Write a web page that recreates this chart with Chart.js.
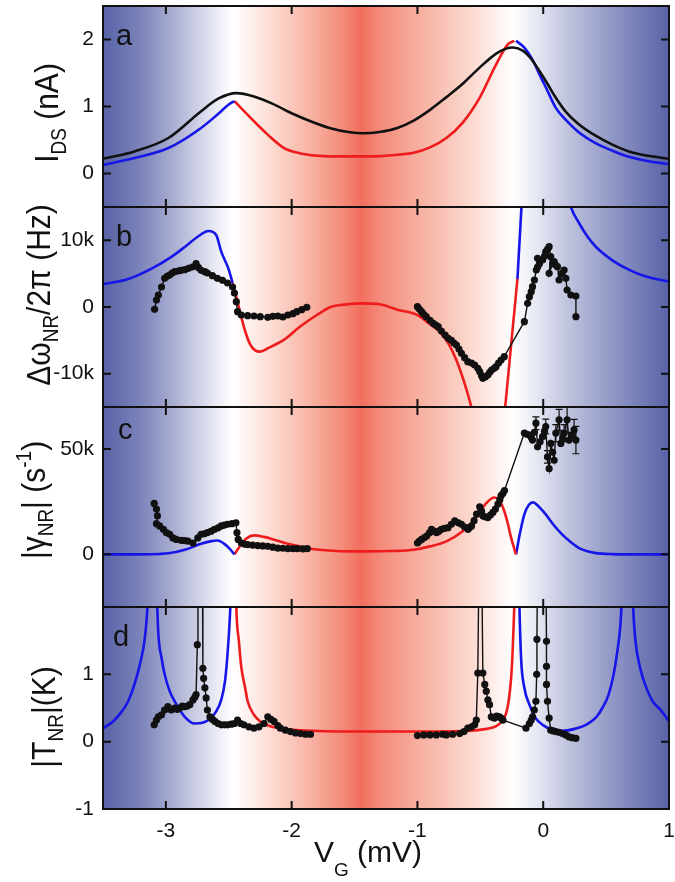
<!DOCTYPE html>
<html>
<head>
<meta charset="utf-8">
<script src="https://cdn.jsdelivr.net/npm/chart.js@4.4.0/dist/chart.umd.min.js"></script>
<style>
  body { margin: 0; background: #fff; }
  #wrap { position: relative; width: 675px; height: 882px; overflow: hidden; }
  canvas { position: absolute; left: 0; }
</style>
</head>
<body>
<div id="wrap">
  <canvas id="chartA" width="675" height="213" style="top:0px"></canvas>
  <canvas id="chartB" width="675" height="212" style="top:201px"></canvas>
  <canvas id="chartC" width="675" height="212" style="top:401px"></canvas>
  <canvas id="chartD" width="675" height="281" style="top:601px"></canvas>
</div>
<script>
// ---- axes / ticks ----
const xTickVals = [-3, -2, -1, 0, 1];
const aTicks = [0, 1, 2];
const bTicks = [-10000, 0, 10000];
const cTicks = [0, 50000];
const dTicks = [-1, 0, 1];

// ---- panel a : I_DS ----
const aBlack = [[-3.5,0.22],[-3.25,0.33],[-2.98,0.53],[-2.72,0.93],[-2.58,1.12],[-2.44,1.2],[-2.3,1.15],[-2.15,1.04],[-2.0,0.9],[-1.85,0.78],[-1.7,0.68],[-1.55,0.62],[-1.43,0.6],[-1.3,0.62],[-1.16,0.68],[-1.03,0.79],[-0.9,0.95],[-0.77,1.14],[-0.64,1.34],[-0.506,1.58],[-0.374,1.79],[-0.3,1.86],[-0.24,1.88],[-0.16,1.83],[-0.1,1.72],[-0.03,1.53],[0.03,1.35],[0.1,1.13],[0.18,0.92],[0.28,0.74],[0.42,0.56],[0.55,0.43],[0.68,0.33],[0.85,0.26],[1.0,0.22]];
const aBlueL = [[-3.5,0.13],[-3.25,0.23],[-2.98,0.38],[-2.72,0.68],[-2.59,0.88],[-2.5,1.03],[-2.455,1.08]];
const aRed = [[-2.455,1.08],[-2.3,0.78],[-2.19,0.58],[-2.06,0.38],[-1.93,0.3],[-1.75,0.26],[-1.5,0.255],[-1.3,0.26],[-1.16,0.28],[-1.03,0.31],[-0.9,0.39],[-0.77,0.53],[-0.64,0.76],[-0.506,1.13],[-0.374,1.63],[-0.28,1.93],[-0.23,1.98]];
const aBlueR = [[-0.216,1.98],[-0.15,1.88],[-0.08,1.68],[-0.03,1.48],[0.03,1.25],[0.1,0.98],[0.18,0.8],[0.28,0.62],[0.42,0.45],[0.55,0.34],[0.68,0.25],[0.85,0.18],[1.0,0.14]];

// ---- panel b : frequency shift ----
const bBlueL = [[-3.5,3400],[-3.3,4200],[-3.11,5800],[-2.95,7600],[-2.85,9000],[-2.75,10500],[-2.66,11400],[-2.6,10800],[-2.56,8300],[-2.5,5600],[-2.47,3600]];
const bRed = [[-2.47,3600],[-2.44,1500],[-2.41,-800],[-2.37,-3600],[-2.33,-5600],[-2.29,-6500],[-2.25,-6700],[-2.18,-6100],[-2.06,-4900],[-1.93,-2900],[-1.8,-1200],[-1.69,0],[-1.61,300],[-1.45,550],[-1.3,400],[-1.16,-400],[-1.0,-1200],[-0.9,-2600],[-0.82,-3800],[-0.75,-5600],[-0.69,-8000],[-0.61,-12400],[-0.55,-16500]];
const bRed2 = [[-0.31,-16500],[-0.205,4200]];
const bBlue2 = [[-0.205,4200],[-0.17,16000]];
const bBlueR = [[0.2,16500],[0.22,15000],[0.285,12600],[0.35,10600],[0.42,9000],[0.55,7000],[0.68,5600],[0.81,4600],[1.0,3800]];
const bDataL = [[-3.09,-350],[-3.075,1050],[-3.06,1800],[-3.035,3000],[-3.01,4300],[-2.99,4600],[-2.97,4800],[-2.95,5100],[-2.93,5300],[-2.9,5400],[-2.88,5500],[-2.85,5600],[-2.82,5800],[-2.79,6000],[-2.76,6500],[-2.74,5900],[-2.72,5500],[-2.69,5300],[-2.67,5100],[-2.63,4700],[-2.59,4300],[-2.55,4000],[-2.51,3600],[-2.47,3000],[-2.455,2100],[-2.44,800],[-2.43,-700],[-2.4,-1200],[-2.35,-1300],[-2.3,-1350],[-2.25,-1450],[-2.19,-1550],[-2.15,-1400],[-2.11,-1350],[-2.07,-1500],[-2.03,-1200],[-1.99,-1000],[-1.96,-700],[-1.92,-400],[-1.88,-50]];
const bDataR = [[-1.0,50],[-0.985,-300],[-0.967,-700],[-0.95,-1100],[-0.93,-1450],[-0.9,-2000],[-0.875,-2450],[-0.855,-2700],[-0.835,-2950],[-0.81,-3600],[-0.78,-4200],[-0.755,-4700],[-0.73,-5000],[-0.71,-5400],[-0.69,-5700],[-0.67,-6300],[-0.65,-6950],[-0.625,-7600],[-0.6,-8200],[-0.57,-8400],[-0.545,-8700],[-0.52,-9200],[-0.505,-9700],[-0.49,-10300],[-0.48,-10700],[-0.46,-10500],[-0.44,-10200],[-0.425,-9800],[-0.41,-9450],[-0.39,-9200],[-0.375,-8950],[-0.355,-8400],[-0.335,-7950],[-0.31,-7450],[-0.15,-2200],[-0.124,550],[-0.11,1550],[-0.095,2300],[-0.085,3050],[-0.07,4050],[-0.055,5550],[-0.045,7300],[-0.045,6000],[-0.03,6500],[-0.005,7050],[0.01,7600],[0.02,8300],[0.035,8700],[0.047,9050],[0.06,7550],[0.047,5050],[0.075,6500],[0.087,6800],[0.1,6300],[0.113,6050],[0.126,4050],[0.145,5000],[0.166,5550],[0.18,4300],[0.19,2550],[0.22,1800],[0.26,1650],[0.26,-1450]];

// ---- panel c : damping ----
const cBlueL = [[-3.5,0],[-3.2,0],[-3.05,200],[-2.98,500],[-2.85,2200],[-2.72,5000],[-2.64,6300],[-2.59,6600],[-2.535,5000],[-2.49,2500],[-2.455,0]];
const cRed = [[-2.455,0],[-2.41,4000],[-2.36,7500],[-2.3,9000],[-2.22,8300],[-2.14,7000],[-2.06,5500],[-1.93,3700],[-1.8,2300],[-1.61,1500],[-1.4,1400],[-1.2,1600],[-1.03,2200],[-0.9,3800],[-0.77,6200],[-0.64,11000],[-0.57,15000],[-0.51,19900],[-0.45,24500],[-0.39,27000],[-0.35,25800],[-0.32,22300],[-0.285,15500],[-0.255,7800],[-0.216,0]];
const cBlueR = [[-0.216,0],[-0.185,10000],[-0.15,19000],[-0.115,23500],[-0.08,24700],[-0.04,23000],[0.02,19000],[0.08,14200],[0.15,9500],[0.22,5800],[0.285,3000],[0.35,1500],[0.42,600],[0.55,100],[0.68,0],[1.0,0]];
const cDataL = [[-3.093,24200],[-3.075,21500],[-3.067,18300],[-3.075,14600],[-3.05,13500],[-3.02,11900],[-2.996,10300],[-2.97,9500],[-2.944,7800],[-2.917,7100],[-2.877,6600],[-2.85,6500],[-2.825,6300],[-2.785,5400],[-2.746,7800],[-2.72,9500],[-2.695,9800],[-2.67,10300],[-2.64,11000],[-2.614,11900],[-2.585,12600],[-2.56,13500],[-2.535,13900],[-2.51,14300],[-2.475,14600],[-2.443,15000],[-2.435,10300],[-2.425,7100],[-2.4,5400],[-2.375,4900],[-2.35,4600],[-2.31,4400],[-2.27,4200],[-2.23,4000],[-2.19,3800],[-2.15,3400],[-2.11,3000],[-2.07,2900],[-2.03,2700],[-1.99,2700],[-1.955,2700],[-1.91,2600],[-1.876,2700]];
const cDataR = [[-1.0,5400],[-0.985,6300],[-0.967,7100],[-0.945,8000],[-0.927,8700],[-0.905,10200],[-0.888,11900],[-0.868,11000],[-0.848,10300],[-0.83,11000],[-0.81,11900],[-0.785,12300],[-0.757,12700],[-0.73,14300],[-0.703,15900],[-0.675,15000],[-0.65,14300],[-0.625,13000],[-0.598,11900],[-0.585,12800],[-0.57,13500],[-0.55,16000],[-0.53,19100],[-0.505,22600],[-0.49,20500],[-0.48,18300],[-0.46,17800],[-0.44,17500],[-0.42,18700],[-0.4,19900],[-0.38,21500],[-0.36,23900],[-0.345,26000],[-0.335,27900],[-0.32,29000],[-0.308,30300],[-0.15,57600],[-0.13,57000],[-0.11,56700],[-0.095,55500],[-0.085,54300],[-0.07,58000],[-0.058,62300],[-0.045,51100],[-0.025,53500],[-0.005,55900],[0.01,58500],[0.02,60700],[0.034,46300],[0.047,40700],[0.06,52700],[0.075,48500],[0.087,44700],[0.1,57600],[0.126,63900],[0.14,52700],[0.155,55000],[0.166,57600],[0.19,63900],[0.205,54300],[0.225,56500],[0.245,59100],[0.26,54300]];
// [x, y, half error]
const cErrors = [[-0.058,62300,3000],[0.02,60700,3500],[0.034,46300,3000],[0.1,57600,4000],[0.126,63900,5000],[0.166,57600,4000],[0.19,63900,6000],[0.245,59100,5000],[0.26,54300,6500]];

// ---- panel d : temperature ----
const dBlueL = [[-3.5,0.2],[-3.42,0.3],[-3.35,0.45],[-3.3,0.6],[-3.25,0.85],[-3.2,1.2],[-3.17,1.5],[-3.15,1.9],[-3.135,2.5],[-3.125,3.0],[-3.085,3.0],[-3.072,2.2],[-3.06,1.6],[-3.035,1.25],[-3.01,1.0],[-2.97,0.75],[-2.93,0.6],[-2.85,0.37],[-2.77,0.27],[-2.68,0.3],[-2.6,0.45],[-2.56,0.62],[-2.53,0.9],[-2.51,1.3],[-2.49,1.9],[-2.478,2.5],[-2.47,3.0]];
const dRed = [[-2.45,3.0],[-2.44,2.0],[-2.42,1.5],[-2.4,1.1],[-2.37,0.8],[-2.35,0.6],[-2.3,0.4],[-2.25,0.3],[-2.17,0.23],[-2.09,0.2],[-1.93,0.17],[-1.5,0.15],[-1.0,0.15],[-0.6,0.16],[-0.45,0.19],[-0.374,0.23],[-0.33,0.3],[-0.295,0.42],[-0.275,0.6],[-0.255,0.95],[-0.243,1.35],[-0.235,1.74],[-0.226,2.3],[-0.22,3.0]];
const dBlueR = [[-0.198,3.0],[-0.19,2.1],[-0.176,1.24],[-0.15,0.8],[-0.11,0.55],[-0.06,0.35],[-0.005,0.25],[0.07,0.18],[0.15,0.16],[0.25,0.19],[0.34,0.25],[0.42,0.36],[0.47,0.5],[0.52,0.7],[0.56,1.0],[0.59,1.35],[0.614,1.74],[0.63,2.3],[0.645,3.0],[0.7,3.0],[0.715,2.0],[0.733,1.5],[0.77,1.1],[0.81,0.85],[0.87,0.6],[0.943,0.45],[1.0,0.3]];
const dDataL = [[-3.093,0.25],[-3.075,0.32],[-3.06,0.37],[-3.035,0.4],[-3.01,0.47],[-2.984,0.52],[-2.957,0.47],[-2.93,0.5],[-2.91,0.48],[-2.89,0.5],[-2.87,0.53],[-2.85,0.52],[-2.83,0.53],[-2.81,0.55],[-2.785,0.62],[-2.77,0.66],[-2.76,0.7],[-2.75,1.44],[-2.745,2.8],[-2.71,2.8],[-2.706,1.09],[-2.7,0.94],[-2.69,0.8],[-2.68,0.65],[-2.67,0.47],[-2.65,0.37],[-2.63,0.33],[-2.61,0.3],[-2.585,0.27],[-2.56,0.25],[-2.535,0.25],[-2.51,0.25],[-2.48,0.26],[-2.455,0.27],[-2.43,0.32],[-2.405,0.27],[-2.38,0.25],[-2.34,0.22],[-2.3,0.2],[-2.26,0.22],[-2.22,0.27],[-2.19,0.37],[-2.165,0.33],[-2.14,0.3],[-2.11,0.24],[-2.09,0.2],[-2.05,0.17],[-2.01,0.15],[-1.97,0.13],[-1.93,0.12],[-1.89,0.11],[-1.85,0.11]];
const dDataR = [[-1.0,0.09],[-0.95,0.1],[-0.9,0.1],[-0.85,0.1],[-0.8,0.11],[-0.77,0.1],[-0.72,0.11],[-0.664,0.12],[-0.63,0.15],[-0.6,0.2],[-0.57,0.22],[-0.545,0.25],[-0.532,0.32],[-0.52,1.02],[-0.51,2.8],[-0.49,2.8],[-0.48,1.02],[-0.465,0.85],[-0.453,0.75],[-0.44,0.62],[-0.427,0.55],[-0.413,0.37],[-0.4,0.36],[-0.387,0.35],[-0.37,0.38],[-0.348,0.37],[-0.335,0.35],[-0.32,0.32],[-0.137,0.2],[-0.11,0.27],[-0.095,0.32],[-0.085,0.37],[-0.071,0.47],[-0.058,0.6],[-0.052,1.0],[-0.05,1.52],[-0.045,2.8],[0.02,2.8],[0.026,1.49],[0.026,1.12],[0.026,0.85],[0.034,0.6],[0.047,0.35],[0.06,0.17],[0.08,0.16],[0.1,0.15],[0.125,0.14],[0.153,0.12],[0.18,0.1],[0.205,0.07],[0.23,0.06],[0.26,0.05]];

// ---- background shading (blue - white - red - white - blue) ----
const bgStops = [-3.5, -3.2, -2.9, -2.6, -2.47, -2.2, -1.9, -1.6, -1.45, -1.3, -1.0, -0.6, -0.24, -0.1, 0.2, 0.6, 1.0];
const bgColors = ['#5862a6', '#7c84ba', '#b1b5d5', '#eaebf5', '#ffffff', '#fde1d9', '#f9baab', '#f48c7a', '#f26e5d', '#f48a7a', '#f7ae9f', '#fbd6cc', '#ffffff', '#eceef6', '#bfc3dd', '#8a91c2', '#5962a7'];

// axis titles: [text, 0 normal / 1 sub / 2 sup]
const aTitle = [['I', 0], ['DS', 1], [' (nA)', 0]];
const bTitle = [['\u0394\u03c9', 0], ['NR', 1], ['/2\u03c0 (Hz)', 0]];
const cTitle = [['|\u03b3', 0], ['NR', 1], ['| (s', 0], ['-1', 2], [')', 0]];
const dTitle = [['|T', 0], ['NR', 1], ['|(K)', 0]];
const xTitle = [['V', 0], ['G', 1], [' (mV)', 0]];

const FONT = '"Liberation Sans", Arial, sans-serif';
const BLUE = '#1616e8';
const RED = '#ee1c1c';
const INK = '#111111';

const panelInfo = {
  chartA: { top: 0, letter: 'a', letterPos: [116, 45], title: aTitle, titlePos: [58, 113] },
  chartB: { top: 201, letter: 'b', letterPos: [116, 246], title: bTitle, titlePos: [50, 295] },
  chartC: { top: 401, letter: 'c', letterPos: [118, 439], title: cTitle, titlePos: [45, 500], errors: cErrors },
  chartD: { top: 601, letter: 'd', letterPos: [113, 646], title: dTitle, titlePos: [55, 717], xTitle: xTitle, xTitlePos: [368, 862] }
};

function xy(arr) {
  return arr.map(p => ({ x: p[0], y: p[1] }));
}

function fmtK(v) {
  return Math.abs(v) >= 1000 ? (v / 1000) + 'k' : String(v);
}

function curve(arr, color) {
  return { data: xy(arr), showLine: true, borderColor: color, borderWidth: 2.6, pointRadius: 0,
           cubicInterpolationMode: 'monotone', clip: 0 };
}

function measured(arr) {
  return { data: xy(arr), showLine: true, borderColor: INK, borderWidth: 1.4, tension: 0,
           pointRadius: 3.6, pointBorderWidth: 0, pointBackgroundColor: INK, clip: 0 };
}

// text with sub / superscripts, centred on (x, y) baseline
function drawRich(ctx, parts, x, y, size, rotated, subDrop) {
  ctx.save();
  ctx.translate(x, y);
  if (rotated) {
    ctx.rotate(-Math.PI / 2);
    ctx.scale(1, 1.12);
  }
  const small = Math.round(size * 0.63);
  const fonts = parts.map(p => (p[1] ? small : size) + 'px ' + FONT);
  let total = 0;
  const widths = parts.map((p, i) => {
    ctx.font = fonts[i];
    const w = ctx.measureText(p[0]).width;
    total += w;
    return w;
  });
  let cx = -total / 2;
  ctx.fillStyle = INK;
  ctx.textAlign = 'left';
  ctx.textBaseline = 'alphabetic';
  parts.forEach((p, i) => {
    ctx.font = fonts[i];
    const dy = p[1] === 1 ? size * subDrop : (p[1] === 2 ? -size * 0.42 : 0);
    ctx.fillText(p[0], cx, dy);
    cx += widths[i];
  });
  ctx.restore();
}

const panelPlugin = {
  id: 'panelDeco',
  beforeDatasetsDraw(chart) {
    const { ctx, chartArea: ca, scales } = chart;
    const g = ctx.createLinearGradient(ca.left, 0, ca.right, 0);
    bgStops.forEach((v, i) => {
      const f = (scales.x.getPixelForValue(v) - ca.left) / (ca.right - ca.left);
      g.addColorStop(Math.min(1, Math.max(0, f)), bgColors[i]);
    });
    ctx.save();
    ctx.fillStyle = g;
    ctx.fillRect(ca.left, ca.top, ca.right - ca.left, ca.bottom - ca.top);
    ctx.restore();
  },
  afterDatasetsDraw(chart) {
    const info = panelInfo[chart.canvas.id];
    const { ctx, chartArea: ca, scales } = chart;
    const x = scales.x, y = scales.y;
    ctx.save();
    // error bars
    if (info.errors) {
      ctx.strokeStyle = INK;
      ctx.lineWidth = 1.2;
      info.errors.forEach(e => {
        const px = x.getPixelForValue(e[0]);
        const p1 = y.getPixelForValue(e[1] - e[2]);
        const p2 = y.getPixelForValue(e[1] + e[2]);
        ctx.beginPath();
        ctx.moveTo(px, p1); ctx.lineTo(px, p2);
        ctx.moveTo(px - 3.5, p1); ctx.lineTo(px + 3.5, p1);
        ctx.moveTo(px - 3.5, p2); ctx.lineTo(px + 3.5, p2);
        ctx.stroke();
      });
    }
    // frame + inward ticks
    ctx.strokeStyle = INK;
    ctx.lineWidth = 2;
    ctx.strokeRect(ca.left, ca.top, ca.right - ca.left, ca.bottom - ca.top);
    ctx.beginPath();
    xTickVals.forEach(v => {
      const px = x.getPixelForValue(v);
      ctx.moveTo(px, ca.top); ctx.lineTo(px, ca.top + 8);
      ctx.moveTo(px, ca.bottom); ctx.lineTo(px, ca.bottom - 8);
    });
    y.ticks.forEach(t => {
      const py = y.getPixelForValue(t.value);
      ctx.moveTo(ca.left, py); ctx.lineTo(ca.left + 8, py);
      ctx.moveTo(ca.right, py); ctx.lineTo(ca.right - 8, py);
    });
    ctx.stroke();
    // panel letter
    ctx.fillStyle = INK;
    ctx.font = '29px ' + FONT;
    ctx.textAlign = 'left';
    ctx.textBaseline = 'alphabetic';
    ctx.fillText(info.letter, info.letterPos[0], info.letterPos[1] - info.top);
    ctx.restore();
    // axis titles
    drawRich(ctx, info.title, info.titlePos[0], info.titlePos[1] - info.top, 30, true, 0.24);
    if (info.xTitle) {
      drawRich(ctx, info.xTitle, info.xTitlePos[0], info.xTitlePos[1] - info.top, 30, false, 0.45);
    }
  }
};

function makePanel(id, yMin, yMax, yTicks, datasets, showX) {
  return new Chart(document.getElementById(id), {
    type: 'scatter',
    data: { datasets: datasets },
    options: {
      responsive: false,
      animation: false,
      events: [],
      layout: { padding: { top: 6, right: 6, bottom: showX ? 0 : 6, left: 0 } },
      plugins: { legend: { display: false }, tooltip: { enabled: false } },
      scales: {
        x: {
          type: 'linear', min: -3.5, max: 1, display: showX,
          afterBuildTicks: s => { s.ticks = xTickVals.map(v => ({ value: v })); },
          afterFit: s => {
            if (showX) s.height = 73;
            s.paddingLeft = 0; s.paddingRight = 0;
          },
          grid: { display: false, drawTicks: false },
          border: { display: false },
          ticks: { font: { family: FONT, size: 21 }, color: INK, padding: 10, maxRotation: 0, autoSkip: false,
                   callback: v => String(v) }
        },
        y: {
          type: 'linear', min: yMin, max: yMax,
          afterBuildTicks: s => { s.ticks = yTicks.map(v => ({ value: v })); },
          afterFit: s => { s.width = 103; s.paddingTop = 0; s.paddingBottom = 0; },
          grid: { display: false, drawTicks: false },
          border: { display: false },
          ticks: { font: { family: FONT, size: 21 }, color: INK, padding: 9, callback: v => fmtK(v) }
        }
      }
    },
    plugins: [panelPlugin]
  });
}

makePanel('chartA', -0.5, 2.5, aTicks, [
  curve(aBlack, INK), curve(aBlueL, BLUE), curve(aRed, RED), curve(aBlueR, BLUE)
], false);

makePanel('chartB', -15000, 15000, bTicks, [
  measured(bDataL), measured(bDataR),
  curve(bBlueL, BLUE), curve(bRed, RED), curve(bRed2, RED), curve(bBlue2, BLUE), curve(bBlueR, BLUE)
], false);

makePanel('chartC', -25000, 70000, cTicks, [
  measured(cDataL), measured(cDataR),
  curve(cBlueL, BLUE), curve(cRed, RED), curve(cBlueR, BLUE)
], false);

makePanel('chartD', -1, 2, dTicks, [
  measured(dDataL), measured(dDataR),
  curve(dBlueL, BLUE), curve(dRed, RED), curve(dBlueR, BLUE)
], true);
</script>
</body>
</html>
